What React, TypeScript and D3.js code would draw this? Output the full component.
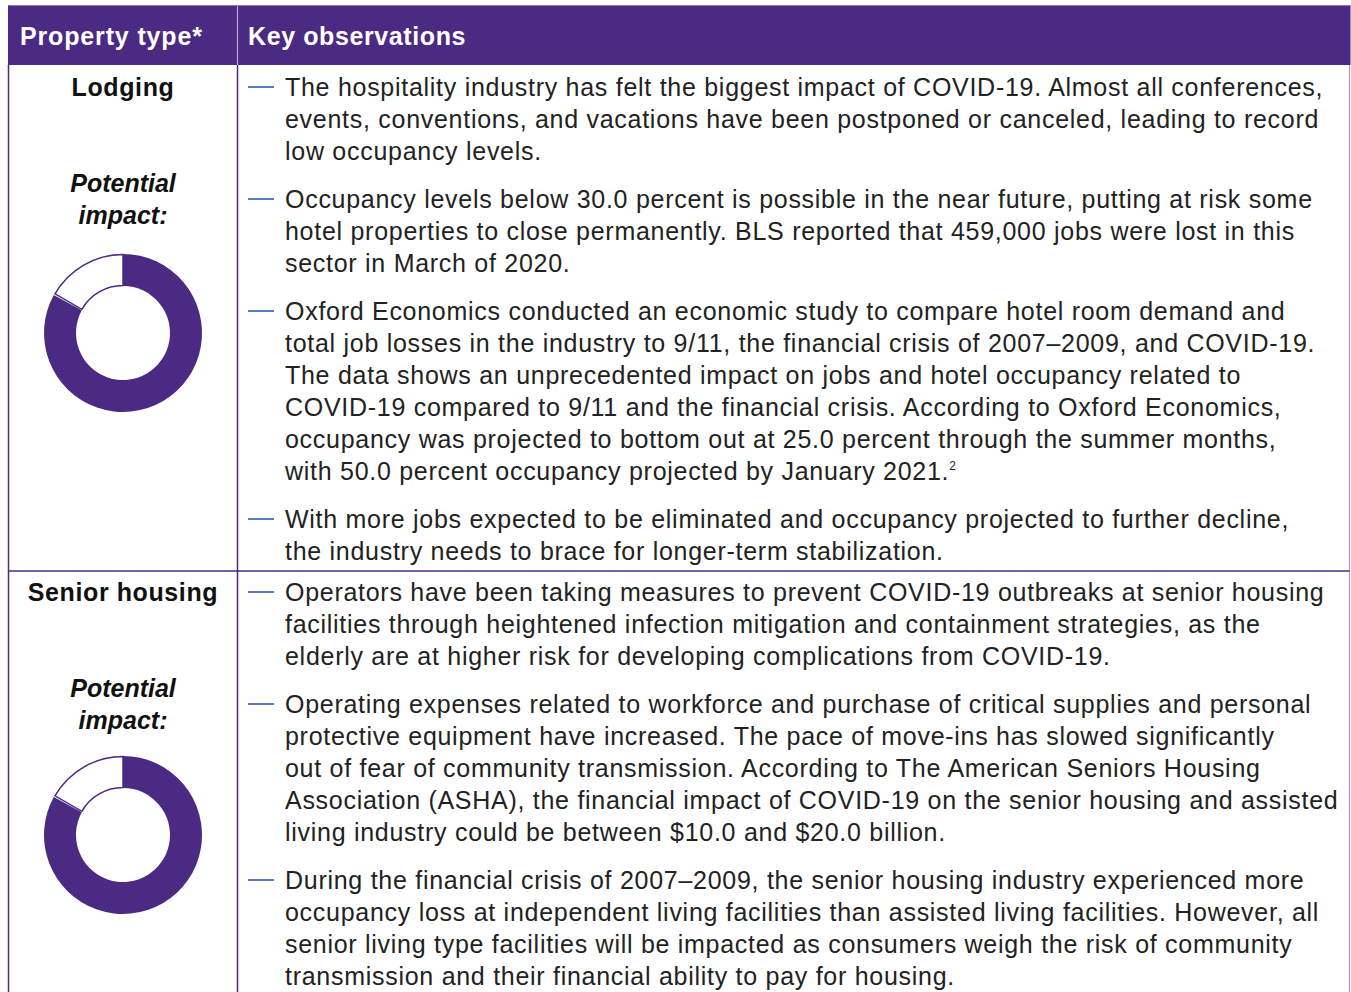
import React, { useEffect, useRef } from "react";
import * as d3 from "d3";

const headers = ["Property type*", "Key observations"];
const categories = ["Lodging", "Senior housing"];
const impactValues = [83, 83];
const impactLabel = ["Potential", "impact:"];

const lodgingParagraphs: string[][] = [
  [
    "The hospitality industry has felt the biggest impact of COVID-19. Almost all conferences,",
    "events, conventions, and vacations have been postponed or canceled, leading to record",
    "low occupancy levels.",
  ],
  [
    "Occupancy levels below 30.0 percent is possible in the near future, putting at risk some",
    "hotel properties to close permanently. BLS reported that 459,000 jobs were lost in this",
    "sector in March of 2020.",
  ],
  [
    "Oxford Economics conducted an economic study to compare hotel room demand and",
    "total job losses in the industry to 9/11, the financial crisis of 2007\u20132009, and COVID-19.",
    "The data shows an unprecedented impact on jobs and hotel occupancy related to",
    "COVID-19 compared to 9/11 and the financial crisis. According to Oxford Economics,",
    "occupancy was projected to bottom out at 25.0 percent through the summer months,",
    "with 50.0 percent occupancy projected by January 2021.^2",
  ],
  [
    "With more jobs expected to be eliminated and occupancy projected to further decline,",
    "the industry needs to brace for longer-term stabilization.",
  ],
];

const seniorParagraphs: string[][] = [
  [
    "Operators have been taking measures to prevent COVID-19 outbreaks at senior housing",
    "facilities through heightened infection mitigation and containment strategies, as the",
    "elderly are at higher risk for developing complications from COVID-19.",
  ],
  [
    "Operating expenses related to workforce and purchase of critical supplies and personal",
    "protective equipment have increased. The pace of move-ins has slowed significantly",
    "out of fear of community transmission. According to The American Seniors Housing",
    "Association (ASHA), the financial impact of COVID-19 on the senior housing and assisted",
    "living industry could be between $10.0 and $20.0 billion.",
  ],
  [
    "During the financial crisis of 2007\u20132009, the senior housing industry experienced more",
    "occupancy loss at independent living facilities than assisted living facilities. However, all",
    "senior living type facilities will be impacted as consumers weigh the risk of community",
    "transmission and their financial ability to pay for housing.",
  ],
];

const rowParagraphs = [lodgingParagraphs, seniorParagraphs];

const W = 1351;
const H = 992;
const PURPLE = "#4a2a82";
const BLUE = "#2a5cb0";
const TEXT = "#222222";
const FONT = "'Liberation Sans', Arial, sans-serif";

export default function App() {
  const ref = useRef<SVGSVGElement | null>(null);

  useEffect(() => {
    const svg = d3.select(ref.current);
    svg.selectAll("*").remove();

    const left = 8.5;
    const right = 1349.5;
    const colX = 237.5;
    const headTop = 5;
    const headBottom = 65;
    const rowTops = [65, 571];
    const rowBaselines = [96, 601];
    const donutCy = [333, 835];
    const lineH = 32;
    const paraGap = 16;

    // header
    svg.append("rect").attr("x", left - 0.5).attr("y", headTop).attr("width", right - left + 1.5)
      .attr("height", headBottom - headTop).attr("fill", PURPLE);
    svg.append("line").attr("x1", left).attr("x2", right + 1).attr("y1", headTop + 0.5).attr("y2", headTop + 0.5)
      .attr("stroke", "#8c76b4").attr("stroke-width", 1);
    svg.append("line").attr("x1", colX).attr("x2", colX).attr("y1", headTop + 1).attr("y2", headBottom)
      .attr("stroke", "#b7a9d1").attr("stroke-width", 1.2);
    svg.append("text").attr("x", 20).attr("y", 45).attr("fill", "#fff").attr("font-family", FONT)
      .attr("font-weight", 700).attr("font-size", 25).attr("letter-spacing", 0.85).text(headers[0]);
    svg.append("text").attr("x", 248).attr("y", 45).attr("fill", "#fff").attr("font-family", FONT)
      .attr("font-weight", 700).attr("font-size", 25).attr("letter-spacing", 0.6).text(headers[1]);

    // borders
    svg.append("line").attr("x1", left).attr("x2", left).attr("y1", headBottom).attr("y2", H)
      .attr("stroke", PURPLE).attr("stroke-width", 1.5);
    svg.append("line").attr("x1", colX).attr("x2", colX).attr("y1", headBottom).attr("y2", H)
      .attr("stroke", PURPLE).attr("stroke-width", 1.5);
    svg.append("line").attr("x1", right).attr("x2", right).attr("y1", headBottom).attr("y2", H)
      .attr("stroke", "#a898c8").attr("stroke-width", 1.2);
    svg.append("line").attr("x1", left).attr("x2", right).attr("y1", rowTops[1]).attr("y2", rowTops[1])
      .attr("stroke", PURPLE).attr("stroke-width", 1.5);

    const arc = d3.arc<d3.PieArcDatum<number>>().innerRadius(47).outerRadius(79);
    const arcWhite = d3.arc<d3.PieArcDatum<number>>().innerRadius(47.5).outerRadius(78.5);
    const pie = d3.pie<number>().sort(null).startAngle(0).endAngle(2 * Math.PI);

    categories.forEach((cat, i) => {
      const base = rowBaselines[i];
      const cx = 123;
      svg.append("text").attr("x", cx).attr("y", base).attr("text-anchor", "middle")
        .attr("font-family", FONT).attr("font-weight", 700).attr("font-size", 25)
        .attr("letter-spacing", 0.6).attr("fill", "#111")
        .text(cat);
      impactLabel.forEach((l, j) => {
        svg.append("text").attr("x", cx).attr("y", base + 96 + j * 32).attr("text-anchor", "middle")
          .attr("font-family", FONT).attr("font-weight", 700).attr("font-style", "italic")
          .attr("font-size", 25).attr("fill", "#111").text(l);
      });
      const arcs = pie([impactValues[i], 100 - impactValues[i]]);
      const g = svg.append("g").attr("transform", `translate(${cx},${donutCy[i]})`);
      g.append("path").attr("d", arc(arcs[0]) as string).attr("fill", PURPLE);
      g.append("path").attr("d", arcWhite({ ...arcs[1], startAngle: arcs[1].startAngle + 0.02 }) as string)
        .attr("fill", "#fff").attr("stroke", PURPLE).attr("stroke-width", 1.5);

      // paragraphs
      let y = base;
      rowParagraphs[i].forEach((para) => {
        svg.append("line").attr("x1", 248).attr("x2", 274).attr("y1", y - 9).attr("y2", y - 9)
          .attr("stroke", BLUE).attr("stroke-width", 1.6);
        para.forEach((line) => {
          const t = svg.append("text").attr("x", 285).attr("y", y).attr("font-family", FONT)
            .attr("font-size", 25).attr("letter-spacing", 0.72).attr("fill", TEXT);
          const parts = line.split("^");
          t.append("tspan").text(parts[0]);
          if (parts[1]) {
            t.append("tspan").attr("dy", -10).attr("font-size", 12).attr("letter-spacing", 0).text(parts[1]);
          }
          y += lineH;
        });
        y += paraGap;
      });
    });
  }, []);

  return (
    <svg
      ref={ref}
      width={W}
      height={H}
      style={{ position: "absolute", left: 0, top: 0, background: "#fff" }}
    />
  );
}
